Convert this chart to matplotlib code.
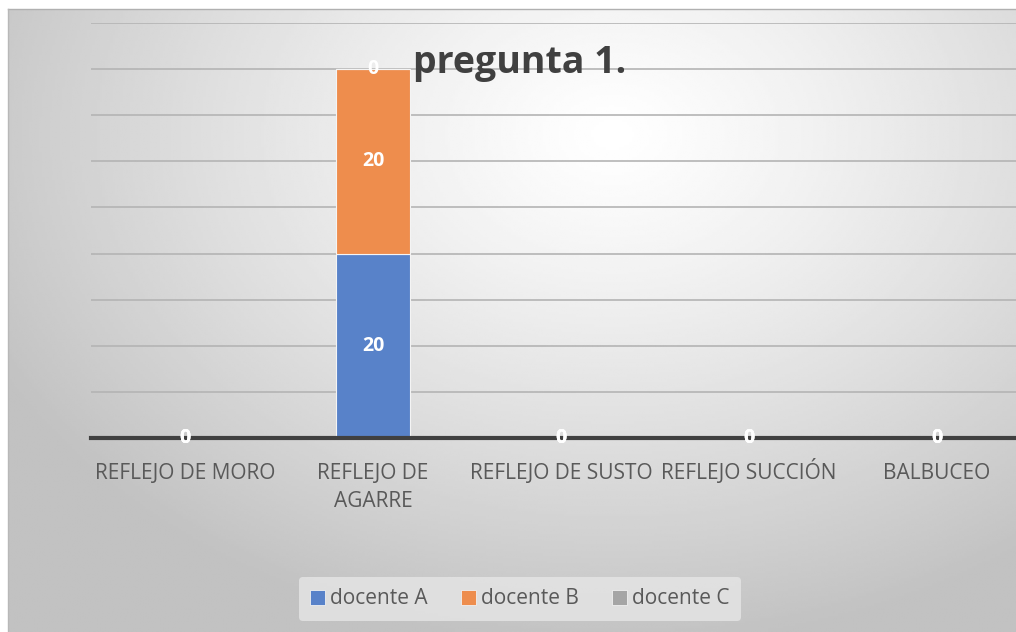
import numpy as np
import matplotlib.pyplot as plt
from matplotlib.patches import Patch

# data
categorias = ["REFLEJO DE MORO", "REFLEJO DE\nAGARRE", "REFLEJO DE SUSTO",
              "REFLEJO SUCCIÓN", "BALBUCEO"]
docente_a = [0, 20, 0, 0, 0]
docente_b = [0, 20, 0, 0, 0]
docente_c = [0, 0, 0, 0, 0]
series_names = ["docente A", "docente B", "docente C"]
colores = ["#5882C9", "#EE8D4D", "#A5A5A5"]

plt.rcParams['font.family'] = ['Open Sans', 'DejaVu Sans']

W, H = 1016, 632
fig = plt.figure(figsize=(W / 100, H / 100), dpi=100)
fig.patch.set_facecolor('white')

# gradient background (radial, light in the upper middle)
bg = fig.add_axes([8 / W, 0, 1 - 8 / W, (H - 9) / H])
gx, gy = np.meshgrid(np.linspace(0, 1, 400), np.linspace(0, 1, 250))
d = np.sqrt(((gx - 0.6) * 0.9) ** 2 + ((gy - 0.2) * 0.75) ** 2)
val = 1.0 - 0.24 * np.clip(d / 0.62, 0, 1) ** 1.2
bg.imshow(val, cmap='gray', vmin=0, vmax=1, aspect='auto',
          extent=[0, 1, 1, 0], interpolation='bilinear')
bg.set_xlim(0, 1)
bg.set_ylim(1, 0)
bg.axis('off')
fig.add_artist(plt.Line2D([8 / W, 1], [(H - 9) / H] * 2, color='#b0b0b0', lw=1))
fig.add_artist(plt.Line2D([8 / W, 8 / W], [0, (H - 9) / H], color='#b8b8b8', lw=1))

ax = fig.add_axes([91 / W, (H - 438) / H, 940 / W, 415 / H])
ax.patch.set_alpha(0)
x = np.arange(len(categorias))
ancho = 0.39
bottom = np.zeros(len(categorias))
for vals, name, col in zip([docente_a, docente_b, docente_c], series_names, colores):
    vals = np.array(vals)
    ax.bar(x, vals, ancho, bottom=bottom, color=col, edgecolor='#f4f4f4',
           linewidth=0.8, label=name, zorder=3)
    for xi, v, b in zip(x, vals, bottom):
        ax.text(xi, b + v / 2, str(v), ha='center', va='center', color='white',
                fontsize=14, fontweight='bold', zorder=5)
    bottom = bottom + vals

ax.set_xlim(-0.5, 4.5)
ax.set_ylim(0, 45)
ax.set_yticks(np.arange(5, 50, 5))
ax.yaxis.grid(True, color='#b4b4b4', linewidth=1.2, zorder=0)
ax.tick_params(axis='y', left=False, labelleft=False)
ax.set_xticks(x)
ax.set_xticklabels([])
ax.tick_params(axis='x', length=0)
# category labels, one line at a time so baselines line up
for xi, cat in zip(x, categorias):
    for i, linea in enumerate(cat.split("\n")):
        ax.text(xi, (-41 - 28 * i) / 415, linea, transform=ax.get_xaxis_transform(),
                ha='center', va='baseline', fontsize=15, color='#595959')
for s in ['top', 'right', 'left']:
    ax.spines[s].set_visible(False)
ax.spines['bottom'].set_color('#404040')
ax.spines['bottom'].set_linewidth(3)
ax.spines['bottom'].set_zorder(4)

fig.text(520 / W, (H - 73) / H, "pregunta 1.", ha='center', va='baseline',
         fontsize=27, fontweight='bold', color='#404040')

handles = [Patch(facecolor=c, edgecolor='#f0f0f0', lw=0.6) for c in colores]
leg = fig.legend(handles, series_names, loc='center', bbox_to_anchor=(520 / W, (H - 599) / H),
                 ncol=3, frameon=True, fontsize=15, handlelength=0.7, handleheight=0.7,
                 handletextpad=0.25, columnspacing=1.6, borderpad=0.55, borderaxespad=0)
leg.get_frame().set_facecolor('#e4e4e4')
leg.get_frame().set_edgecolor('none')
leg.get_frame().set_alpha(0.85)
for t in leg.get_texts():
    t.set_color('#595959')

fig.savefig('out.png', dpi=100)
